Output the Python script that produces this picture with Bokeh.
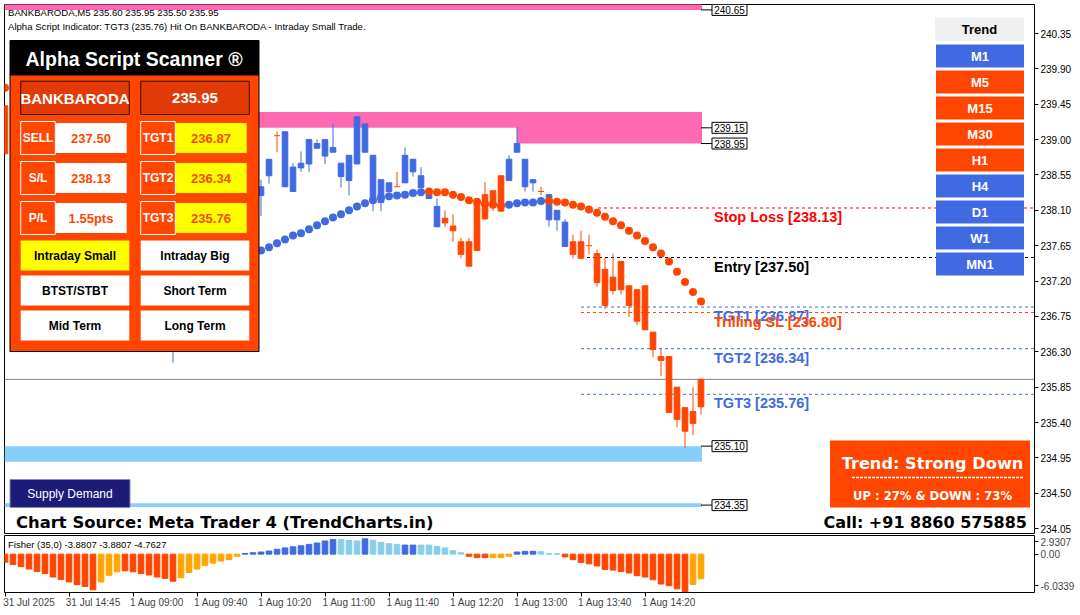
from bokeh.plotting import figure
from bokeh.models import Range1d, FixedTicker, Label, PrintfTickFormatter
from bokeh.layouts import column
from bokeh.embed import file_html
from bokeh.resources import INLINE
from bokeh.core.properties import value

SYMBOL = "BANKBARODA"
TF = "M5"

# ---------------- candles (bar index, OHLC, trend colour code) ----------------
c_idx = [0, 21] + list(range(32, 88))
c_open = [239.43, 236.45,
          238.29, 238.54, 239.05, 239.10, 238.34, 238.64, 238.69, 238.95, 239.00, 238.84,
          238.70, 238.48, 238.69, 239.20, 238.80, 238.20, 238.45, 238.40, 238.45, 238.75,
          238.54, 238.35, 238.15, 237.94, 237.90, 237.70, 237.70, 237.59, 238.30, 238.14,
          238.09, 238.48, 238.84, 238.75, 238.45, 238.34, 238.30, 237.98, 237.95, 237.70,
          237.49, 237.65, 237.55, 237.35, 237.08, 237.45, 237.14, 236.69, 237.14, 236.55,
          236.24, 236.24, 235.85, 235.59, 235.39, 235.60]
c_high = [239.43, 236.60,
          238.49, 238.75, 239.10, 239.10, 238.70, 238.85, 239.00, 239.00, 239.00, 239.20,
          238.70, 238.80, 239.29, 239.20, 238.80, 238.49, 238.45, 238.59, 238.90, 238.75,
          238.65, 238.35, 238.25, 238.10, 238.05, 237.75, 237.75, 238.20, 238.46, 238.35,
          238.54, 238.80, 239.16, 238.75, 238.49, 238.40, 238.30, 238.10, 237.99, 237.79,
          237.84, 237.79, 237.60, 237.50, 237.55, 237.45, 237.14, 237.09, 237.14, 236.55,
          236.34, 236.24, 235.85, 235.59, 235.85, 235.95]
c_low = [238.82, 236.16,
         238.03, 238.44, 238.84, 238.40, 238.34, 238.59, 238.59, 238.89, 238.69, 238.84,
         238.39, 238.29, 238.69, 238.84, 238.09, 238.09, 238.34, 238.40, 238.45, 238.53,
         238.39, 238.25, 237.89, 237.89, 237.70, 237.49, 237.39, 237.59, 237.99, 238.09,
         238.09, 238.48, 238.84, 238.34, 238.34, 238.29, 237.89, 237.84, 237.64, 237.49,
         237.49, 237.54, 237.13, 236.84, 237.03, 237.03, 236.74, 236.64, 236.58, 236.23,
         235.99, 235.53, 235.34, 235.08, 235.24, 235.50]
c_close = [238.82, 236.50,
           238.40, 238.75, 239.05, 238.40, 238.65, 238.70, 239.00, 238.89, 238.79, 238.90,
           238.53, 238.80, 239.29, 238.84, 238.20, 238.49, 238.34, 238.40, 238.80, 238.59,
           238.39, 238.25, 237.89, 238.00, 237.84, 237.54, 237.39, 238.20, 237.99, 238.35,
           238.54, 238.75, 238.95, 238.40, 238.49, 238.34, 237.98, 238.10, 237.64, 237.54,
           237.70, 237.65, 237.18, 236.89, 237.25, 237.09, 236.89, 237.09, 236.58, 236.33,
           236.19, 235.53, 235.44, 235.29, 235.54, 235.95]
c_trend = list("RB" "BBR" "BBBBBBBBBBBBBB" "R" "BBBBB" "RRRRRRRR" "BBBB" "R" "BBB"
               "RRRRRRRRRRRRRRRRR")

# ---------------- trailing dots ----------------
s_idx = [0] + list(range(32, 88))
s_val = [239.66,
         237.59, 237.63, 237.68, 237.73, 237.78, 237.81, 237.86, 237.91, 237.96, 238.01,
         238.05, 238.10, 238.15, 238.19, 238.23, 238.26, 238.28, 238.29, 238.30, 238.32,
         238.33, 238.34, 238.33, 238.33, 238.30, 238.27, 238.23, 238.21, 238.18, 238.17,
         238.16, 238.17, 238.19, 238.20, 238.20, 238.22, 238.22, 238.21, 238.20, 238.17,
         238.15, 238.11, 238.07, 238.02, 237.96, 237.91, 237.84, 237.78, 237.71, 237.63,
         237.55, 237.45, 237.32, 237.19, 237.06, 236.94]
s_trend = list("R" + "B" * 21 + "R" * 10 + "B" * 5 + "R" * 20)

# ---------------- fisher histogram ----------------
f_val = [-1.26, -1.64, -1.97, -2.35, -2.73, -3.06, -3.60, -3.99, -4.37, -4.80, -5.08, -5.62,
         -4.37, -3.33, -2.78,
         -2.62, -2.78, -3.06, -3.28, -3.60, -3.82, -4.26,
         -3.71, -2.89, -2.35, -1.80, -1.42, -1.09, -0.87, -0.33,
         0.11, 0.22, 0.33, 0.49, 0.76, 0.98, 1.15, 1.31, 1.53, 1.75, 2.07, 2.29,
         2.29, 2.13, 2.07, 2.40, 2.18, 1.86, 1.64, 1.53, 1.42, 1.42, 1.42, 1.42, 1.20, 0.98, 0.55, 0.22,
         -0.33, -0.55, -0.55, -0.55, -0.55, -0.33,
         0.33, 0.44, 0.44, 0.38, 0.11, 0.06,
         -0.44, -0.87, -1.31, -1.53, -1.86, -2.40, -2.51, -2.73, -2.95, -3.39, -3.60, -4.04,
         -4.70, -4.97, -5.46, -5.90,
         -4.76, -3.88]
f_col = list("R" * 12 + "O" * 3 + "R" * 7 + "O" * 8 + "B" * 12 + "LLL" + "B" + "LLLL" + "BB"
             + "L" * 6 + "RRR" + "OOO" + "BBB" + "LLL" + "R" * 16 + "OO")
fisher_text = "Fisher (35,0) -3.8807 -3.8807 -4.7627"
fisher_lbl = ["2.9307", "0.00", "-6.0339"]
FMAX, FMIN = 2.9307, -6.0339

# ---------------- levels / zones ----------------
last_price = 235.95
entry = 237.50
stop_loss = 238.13
tgt1, tgt2, tgt3 = 236.87, 236.34, 235.76
trail_sl = 236.80
supply_top = [240.80, 239.35, 239.35]
supply_bot = [240.65, 239.15, 238.95]
supply_start = [0, 22, 64]
supply_lbl = [240.65, 239.15, 238.95]
demand_top = [235.10, 234.375]
demand_bot = [234.90, 234.325]
demand_lbl = [235.10, 234.35]

price_ticks = [240.35, 239.90, 239.45, 239.00, 238.55, 238.10, 237.65, 237.20,
               236.75, 236.30, 235.85, 235.40, 234.95, 234.50, 234.05]
x_tick_idx = [0, 8, 16, 24, 32, 40, 48, 56, 64, 72, 80]
x_tick_lbl = ["31 Jul 2025", "31 Jul 14:45", "1 Aug 09:00", "1 Aug 09:40", "1 Aug 10:20",
              "1 Aug 11:00", "1 Aug 11:40", "1 Aug 12:20", "1 Aug 13:00", "1 Aug 13:40",
              "1 Aug 14:20"]

tf_names = ["M1", "M5", "M15", "M30", "H1", "H4", "D1", "W1", "MN1"]
tf_dir = ["up", "down", "down", "down", "down", "up", "up", "up", "up"]
up_pct, down_pct = 27, 73
trade_types = [["Intraday Small", "Intraday Big"], ["BTST/STBT", "Short Term"], ["Mid Term", "Long Term"]]
active_trade = "Intraday Small"

# ---------------- styling ----------------
BLUE, ORED, ORANGE, SKY = "#4169E1", "#FF4500", "#FFA500", "#87CEEB"
PINK, LBLUE = "#FF69B4", "#87CEFA"
cmap = {"B": BLUE, "R": ORED, "O": ORANGE, "L": SKY}
FONT = "Liberation Sans"
WIDE = "DejaVu Sans"

# reference-pixel calibration (layout only)
def X(px):
    return (px - 5.0) / 8.0

def Y(py):
    return 240.35 - (py - 33.0) / 78.6

PXU = 78.6
XMIN, XMAX = X(4.5), X(1034.5)
YMAX, YMIN = Y(4.0), Y(533.0)
FW, H1, HF = 1030, 529, 57

def FY(py):
    return FMAX - (py - 535.0) / 57.0 * (FMAX - FMIN)

p = figure(frame_width=FW, frame_height=H1, x_range=Range1d(XMIN, XMAX),
           y_range=Range1d(YMIN, YMAX), x_axis_location=None, y_axis_location="right",
           output_backend="svg", toolbar_location=None,
           min_border_left=4, min_border_top=4, min_border_bottom=2, min_border_right=0)
p.grid.visible = False
p.outline_line_color = "black"
p.background_fill_color = "white"
p.border_fill_color = "white"
ya = p.yaxis[0]
ya.ticker = FixedTicker(ticks=price_ticks)
ya.formatter = PrintfTickFormatter(format="%.2f")
ya.axis_line_color = None
ya.major_tick_in = 0
ya.major_tick_out = 4
ya.minor_tick_in = 0
ya.minor_tick_out = 0
ya.major_label_standoff = 2
ya.major_label_text_font = FONT
ya.major_label_text_font_size = "10px"
ya.major_label_text_color = "black"

def box(p_, x0, y0, x1, y1, fill, line=None, lw=1, yf=Y):
    p_.quad(left=X(x0), right=X(x1), top=yf(y0), bottom=yf(y1), fill_color=fill,
            line_color=line, line_width=lw)

def txt(p_, x, y, s, size, color, bold=False, align="left", yf=Y, font=FONT):
    p_.text(x=[X(x)], y=[yf(y)], text=[s], text_font=value(font),
            text_font_size=value(f"{size}px"), text_color=color,
            text_font_style="bold" if bold else "normal", text_align=align,
            text_baseline="middle")

zone_end = 87.125
for t, b, s in zip(supply_top, supply_bot, supply_start):
    p.quad(left=s if s > 0 else XMIN, right=zone_end, top=t, bottom=b,
           fill_color=PINK, line_color=None)
for t, b in zip(demand_top, demand_bot):
    p.quad(left=XMIN, right=zone_end, top=t, bottom=b, fill_color=LBLUE, line_color=None)

p.segment(x0=XMIN, x1=XMAX, y0=last_price, y1=last_price, line_color="#808080", line_width=1)
lvl = [(stop_loss, "#FF0000", 598), (entry, "black", 587), (tgt1, BLUE, 581),
       (trail_sl, ORED, 581), (tgt2, BLUE, 581), (tgt3, BLUE, 581)]
for v, col, sx in lvl:
    p.segment(x0=X(sx), x1=XMAX, y0=v, y1=v, line_color=col, line_width=1, line_dash="3 3")

for i, o, h, l, c, t in zip(c_idx, c_open, c_high, c_low, c_close, c_trend):
    col = cmap[t]
    p.segment(x0=i, x1=i, y0=l, y1=h, line_color=col, line_width=1)
    if abs(o - c) < 1e-9:
        p.segment(x0=i - 0.375, x1=i + 0.375, y0=o, y1=o, line_color=col, line_width=1)
    else:
        p.vbar(x=i, width=0.7, top=max(o, c), bottom=min(o, c), fill_color=col, line_color=col)

p.scatter(x=s_idx, y=s_val, size=8, fill_color=[cmap[t] for t in s_trend], line_color=None)

off = 9.0 / PXU
lvl_txt = [(stop_loss, "#FF0000", "Stop Loss"), (entry, "black", "Entry"), (tgt1, BLUE, "TGT1"),
           (trail_sl, ORED, "Trilling SL"), (tgt2, BLUE, "TGT2"), (tgt3, BLUE, "TGT3")]
for v, col, name in lvl_txt:
    p.text(x=[X(714)], y=[v - off], text=[f"{name} [{v:.2f}]"], text_font=value(FONT),
           text_font_size=value("14.5px"), text_font_style="bold", text_color=col,
           text_align="left", text_baseline="middle")

hh = 5.5 / PXU
for v in supply_lbl + demand_lbl:
    p.segment(x0=X(701), x1=X(712), y0=v, y1=v, line_color="black", line_width=1)
    p.quad(left=X(712), right=X(747), top=v + hh, bottom=v - hh, fill_color="white",
           line_color="black", line_width=1)
    p.text(x=[X(729.5)], y=[v], text=[f"{v:.2f}"], text_font=value(FONT),
           text_font_size=value("10px"), text_color="black", text_align="center",
           text_baseline="middle")

lo = len(c_idx) - 1
txt(p, 8, 12, f"{SYMBOL},{TF}  {c_open[lo]:.2f} {c_high[lo]:.2f} {c_low[lo]:.2f} {c_close[lo]:.2f}",
    9.6, "black")
txt(p, 8, 26, f"Alpha Script Indicator: TGT3 ({tgt3:.2f}) Hit On {SYMBOL} - Intraday Small Trade.",
    9.6, "black")

# ---------------- scanner panel ----------------
box(p, 10, 40, 259, 351, ORED, "black")
box(p, 10, 40, 259, 75, "black", None)
txt(p, 134, 58.5, "Alpha Script Scanner \u00ae", 19.5, "white", True, "center")
box(p, 20.7, 80.7, 129.3, 114, "#E23A06", "#3A1000")
box(p, 140.7, 80.7, 249.3, 114, "#E23A06", "#3A1000")
txt(p, 75, 97.5, SYMBOL, 15, "white", True, "center")
txt(p, 195, 97.5, f"{last_price:.2f}", 15, "white", True, "center")
rows = [("SELL", f"{entry:.2f}", "TGT1", f"{tgt1:.2f}"),
        ("S/L", f"{stop_loss:.2f}", "TGT2", f"{tgt2:.2f}"),
        ("P/L", f"{entry - last_price:.2f}pts", "TGT3", f"{tgt3:.2f}")]
for k, (a, av, b, bv) in enumerate(rows):
    top = 121 + 40 * k
    box(p, 55.3, top + 1.5, 126.7, top + 31.5, "white", None)
    box(p, 20.7, top, 55.3, top + 33, ORED, "white")
    box(p, 175.3, top + 1.5, 246.7, top + 31.5, "#FFFF00", None)
    box(p, 140.7, top, 175.3, top + 33, ORED, "white")
    txt(p, 38, top + 16.5, a, 12, "white", True, "center")
    txt(p, 158, top + 16.5, b, 12, "white", True, "center")
    txt(p, 91, top + 16.5, av, 13, ORED, True, "center")
    txt(p, 211, top + 16.5, bv, 13, ORED, True, "center")
for k, pair in enumerate(trade_types):
    top = 240 + 35 * k
    for j, name in enumerate(pair):
        x0 = 20.7 + 120 * j
        box(p, x0, top, x0 + 108.6, top + 30, "#FFFF00" if name == active_trade else "white", None)
        txt(p, x0 + 54.3, top + 15.5, name, 12, "black", True, "center")

# ---------------- trend panel ----------------
box(p, 935, 17, 1024, 40.5, "#F0F0F0", None)
txt(p, 979.5, 29, "Trend", 13, "black", True, "center")
for k, (n, d) in enumerate(zip(tf_names, tf_dir)):
    top = 44 + 26 * k
    box(p, 936, top, 1024, top + 23, BLUE if d == "up" else ORED, None)
    txt(p, 980, top + 11.5, n, 13, "white", True, "center")

box(p, 830, 440, 1030, 507, ORED, None)
txt(p, 932.5, 462.5, "Trend: Strong " + ("Down" if down_pct > up_pct else "Up"), 16.2, "white",
    True, "center", font=WIDE)
p.segment(x0=X(852), x1=X(1023), y0=Y(477), y1=Y(477), line_color="white", line_width=1.5,
          line_dash="3 1")
txt(p, 932.5, 495, f"UP : {up_pct}% & DOWN : {down_pct}%", 11.6, "white", True, "center", font=WIDE)

box(p, 10, 479, 130, 507, "#1C1C78", "#8888BB")
txt(p, 70, 493, "Supply Demand", 12, "white", False, "center")

txt(p, 16, 522, "Chart Source: Meta Trader 4 (TrendCharts.in)", 16.4, "black", True, "left", font=WIDE)
txt(p, 1027, 522, "Call: +91 8860 575885", 16, "black", True, "right", font=WIDE)

p.add_layout(Label(x=XMAX, y=last_price, x_offset=2, text=f"{last_price:.2f}",
                   text_font=FONT, text_font_size="10px", text_color="white",
                   background_fill_color="black", text_baseline="middle", text_align="left",
                   padding=2))

# ---------------- fisher pane ----------------
p2 = figure(frame_width=FW, frame_height=HF, x_range=p.x_range, y_range=Range1d(FMIN, FMAX),
            x_axis_location="below", y_axis_location="right", output_backend="svg",
            toolbar_location=None, min_border_left=4, min_border_top=0, min_border_bottom=0,
            min_border_right=0)
p2.grid.visible = False
p2.outline_line_color = "black"
p2.background_fill_color = "white"
p2.vbar(x=list(range(len(f_val))), width=0.7, top=f_val, bottom=0,
        fill_color=[cmap[c] for c in f_col], line_color=[cmap[c] for c in f_col])
p2.text(x=[X(8)], y=[FY(544)], text=[fisher_text], text_font=value(FONT),
        text_font_size=value("9.5px"), text_color="black", text_align="left", text_baseline="middle")

fy = p2.yaxis[0]
f_pos = [FY(541), 0.0, FY(585)]
fy.ticker = FixedTicker(ticks=f_pos)
fy.major_label_overrides = {k: v for k, v in zip(f_pos, fisher_lbl)}
fy.axis_line_color = None
fy.major_tick_in = 0
fy.major_tick_out = 4
fy.minor_tick_in = 0
fy.minor_tick_out = 0
fy.major_label_standoff = 2
fy.major_label_text_font = FONT
fy.major_label_text_font_size = "10px"

shift = [i + 3 for i in x_tick_idx]
xa = p2.xaxis[0]
xa.ticker = FixedTicker(ticks=shift, minor_ticks=x_tick_idx)
xa.major_label_overrides = {k: v for k, v in zip(shift, x_tick_lbl)}
xa.axis_line_color = None
xa.major_tick_in = 0
xa.major_tick_out = 0
xa.minor_tick_in = 0
xa.minor_tick_out = 4
xa.minor_tick_line_color = "black"
xa.major_label_standoff = 0
xa.major_label_text_font = FONT
xa.major_label_text_font_size = "10px"

layout = column(p, p2)
open("out.html", "w").write(file_html(layout, INLINE))
